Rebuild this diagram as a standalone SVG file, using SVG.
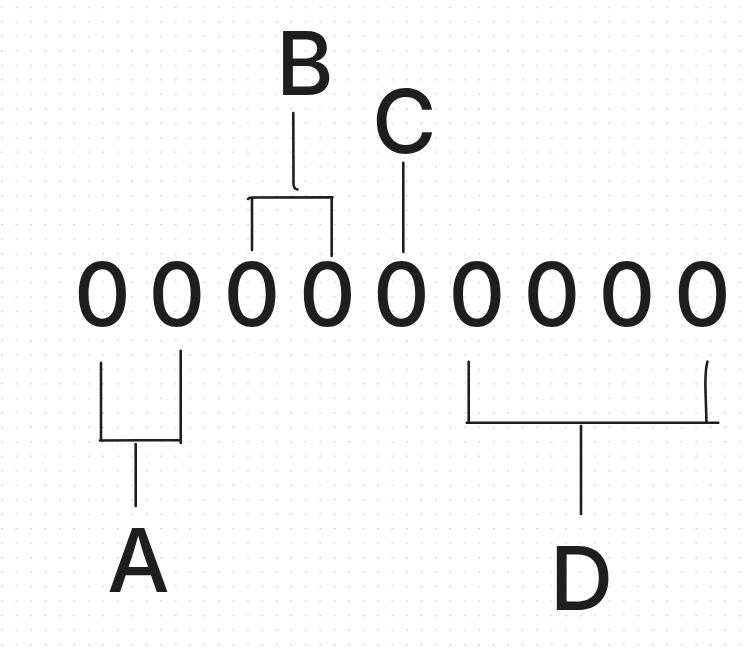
<svg xmlns="http://www.w3.org/2000/svg" width="753" height="648" viewBox="0 0 753 648">
<defs>
<pattern id="dots" patternUnits="userSpaceOnUse" x="0" y="0" width="14.46" height="14.48">
<rect x="1.5" y="6.8" width="1.2" height="1.2" fill="#bdbdbd"/>
</pattern>
<style>
.t{font-family:Inter,"Liberation Sans",sans-serif;font-size:88px;font-weight:500;fill:#1e1e1e;text-anchor:middle}
.l{fill:none;stroke:#1e1e1e;stroke-width:2.6;stroke-linecap:round;stroke-linejoin:round}
</style>
</defs>
<rect width="753" height="648" fill="#ffffff"/>
<rect width="753" height="648" fill="url(#dots)"/>
<g id="digits">
<text class="t" x="102.5" y="325.7">0</text>
<text class="t" x="177" y="325.7">0</text>
<text class="t" x="252" y="325.7">0</text>
<text class="t" x="327.5" y="325.7">0</text>
<text class="t" x="401.5" y="325.7">0</text>
<text class="t" x="477" y="325.7">0</text>
<text class="t" x="552" y="325.7">0</text>
<text class="t" x="627" y="325.7">0</text>
<text class="t" x="702.5" y="325.7">0</text>
</g>
<g id="label-A"><text class="t" x="138.5" y="592">A</text></g>
<g id="label-B"><text class="t" x="305" y="95">B</text></g>
<g id="label-C"><text class="t" x="404.3" y="152.5">C</text></g>
<g id="label-D"><text class="t" x="581.5" y="610">D</text></g>
<g id="connectors">
<path class="l" d="M101 362.7 L101 440.5 M100 440.5 L180.7 440 M180.7 350.7 L180.7 443 M135.7 444 L135.7 506"/>
<path class="l" d="M293.3 113 L293.5 184 Q293.8 189 297.5 189.5 M248 199 Q249 197.5 252 197.5 L332.5 197.3 M252 199 L252 250 M331.7 197.3 L331.7 256"/>
<path class="l" d="M403.3 162.7 L403.3 252"/>
<path class="l" d="M468.7 361.7 L468.7 422.7 M466.7 422.7 L718.3 422.7 M707.5 361.7 Q705 370 705.5 390 L706.5 422.7 M581 426 L581 514"/>
</g>
</svg>
